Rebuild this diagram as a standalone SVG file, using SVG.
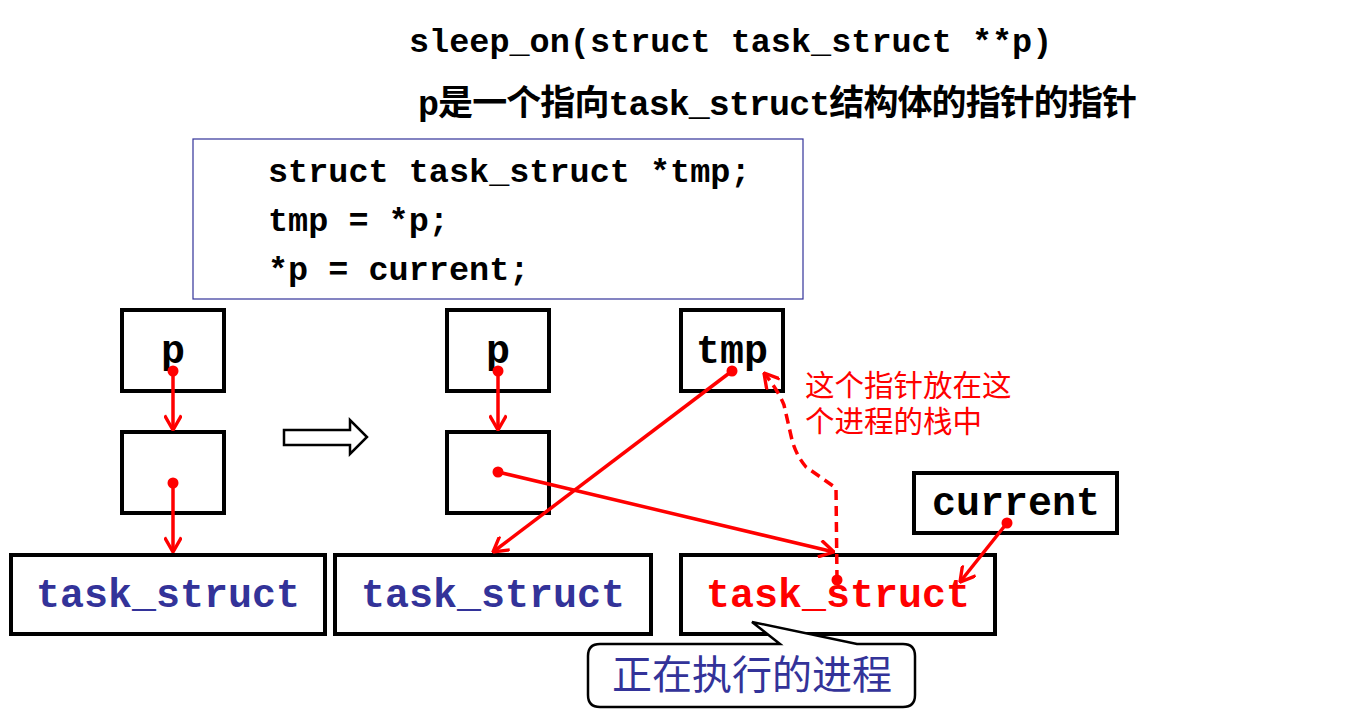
<svg xmlns="http://www.w3.org/2000/svg" width="1353" height="722" viewBox="0 0 1353 722">
<style>
.mono{font-family:"Liberation Mono","Courier New",monospace;font-weight:bold}
.cjk{font-family:"Noto Sans CJK SC",sans-serif}
.box{fill:#fff;stroke:#000;stroke-width:4}
.ptr{stroke:#f00;stroke-width:3.5;fill:none}
.dot{fill:#f00}
.blue{fill:#333399}
</style>
<defs>
<marker id="ah" markerUnits="userSpaceOnUse" markerWidth="18" markerHeight="18" viewBox="0 0 16 16" refX="15" refY="8" orient="auto">
<path d="M2,0.5 L15,8 L2,15.5" fill="none" stroke="#f00" stroke-width="3"/>
</marker>
</defs>
<rect width="1353" height="722" fill="#fff"/>
<g id="title">
<text class="mono" x="409" y="52" font-size="33.5">sleep_on(struct task_struct **p)</text>
<text x="418" y="115" font-size="35" textLength="719" lengthAdjust="spacing" style="font-family:'Liberation Mono','Noto Sans CJK SC',monospace;font-weight:bold">p是一个指向task_struct结构体的指针的指针</text>
</g>
<g id="code">
<rect x="193" y="139" width="610" height="160" fill="#fff" stroke="#333399" stroke-width="1.2"/>
<text class="mono" x="268" y="182" font-size="33.5">struct task_struct *tmp;</text>
<text class="mono" x="268" y="231" font-size="33.5">tmp = *p;</text>
<text class="mono" x="268" y="280" font-size="33.5">*p = current;</text>
</g>
<g id="left-p">
<rect class="box" x="122" y="310" width="102" height="81"/>
<text class="mono" x="173" y="363" font-size="40" text-anchor="middle">p</text>
</g>
<g id="left-mid">
<rect class="box" x="122" y="432" width="102" height="81"/>
</g>
<g id="left-task">
<rect class="box" x="11" y="555" width="314" height="79"/>
<text class="mono blue" x="168" y="607" font-size="40" text-anchor="middle">task_struct</text>
</g>
<g id="transition">
<polygon points="284,430 350,430 350,420 367,437 350,454 350,445 284,445" fill="#fff" stroke="#000" stroke-width="2.5"/>
</g>
<g id="mid-p">
<rect class="box" x="447" y="310" width="102" height="81"/>
<text class="mono" x="498" y="363" font-size="40" text-anchor="middle">p</text>
</g>
<g id="mid-mid">
<rect class="box" x="447" y="432" width="102" height="81"/>
</g>
<g id="mid-task">
<rect class="box" x="335" y="555" width="316" height="79"/>
<text class="mono blue" x="493" y="607" font-size="40" text-anchor="middle">task_struct</text>
</g>
<g id="tmp">
<rect class="box" x="681" y="310" width="102" height="81"/>
<text class="mono" x="732" y="363" font-size="40" text-anchor="middle">tmp</text>
</g>
<g id="current">
<rect class="box" x="914" y="473" width="203" height="60"/>
<text class="mono" x="1016" y="515" font-size="40" text-anchor="middle">current</text>
</g>
<g id="cur-task">
<rect class="box" x="681" y="555" width="314" height="79"/>
<text class="mono" x="838" y="607" font-size="40" text-anchor="middle" fill="#f00">task_struct</text>
</g>
<g id="note">
<text class="cjk" font-size="29.5" fill="#f00"><tspan x="805" y="396">这个指针放在这</tspan><tspan x="805" y="432">个进程的栈中</tspan></text>
</g>
<g id="callout">
<path d="M600,644 H780 L752,622 L857,644 H903 Q915,644 915,656 V695 Q915,707 903,707 H600 Q588,707 588,695 V656 Q588,644 600,644 Z" fill="#fff" stroke="#000" stroke-width="2.5" stroke-linejoin="miter"/>
<text class="cjk blue" x="752" y="689" font-size="40" text-anchor="middle">正在执行的进程</text>
</g>
<g id="connectors">
<line class="ptr" x1="173" y1="371" x2="173" y2="430" marker-end="url(#ah)"/>
<line class="ptr" x1="173" y1="483" x2="173" y2="552" marker-end="url(#ah)"/>
<line class="ptr" x1="498" y1="371" x2="498" y2="430" marker-end="url(#ah)"/>
<line class="ptr" x1="498" y1="472" x2="834" y2="552" marker-end="url(#ah)"/>
<line class="ptr" x1="732" y1="371" x2="493" y2="552" marker-end="url(#ah)"/>
<line class="ptr" x1="1007" y1="523" x2="960" y2="582" marker-end="url(#ah)"/>
<path class="ptr" d="M837,580 L836,488 L806,467 Q796,455 792,440 L784,405 Q778,390 764,373" stroke-dasharray="10,6" marker-end="url(#ah)"/>
<circle class="dot" cx="173" cy="371" r="5.5"/>
<circle class="dot" cx="173" cy="483" r="5.5"/>
<circle class="dot" cx="498" cy="371" r="5.5"/>
<circle class="dot" cx="498" cy="472" r="5.5"/>
<circle class="dot" cx="732" cy="371" r="5.5"/>
<circle class="dot" cx="1007" cy="523" r="5.5"/>
<circle class="dot" cx="837" cy="580" r="5.5"/>
</g>
</svg>
